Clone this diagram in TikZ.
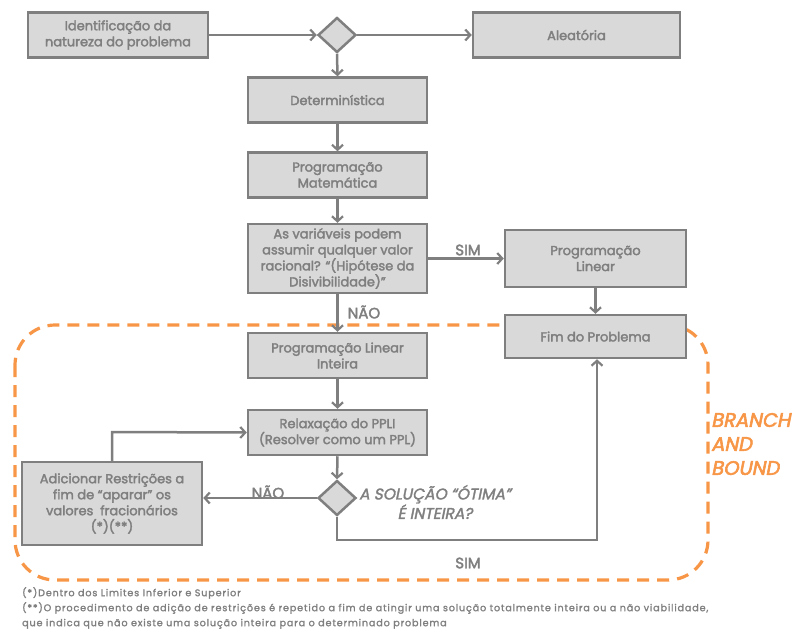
\documentclass[tikz,border=0pt]{standalone}
\usepackage{fontspec}
\setmainfont{Poppins}[FakeBold=2.5]
\newfontfamily\notefont{Poppins}[FakeBold=1.8,LetterSpace=9]
\newfontfamily\bbfont{Poppins}[FakeBold=3,FakeSlant=0.2]
\newfontfamily\qfont{Poppins}[FakeBold=2,FakeSlant=0.2]
\usetikzlibrary{arrows.meta,shapes.geometric}
\definecolor{txtgray}{RGB}{127,127,127}
\definecolor{boxfill}{RGB}{217,217,217}
\definecolor{boxline}{RGB}{127,127,127}
\definecolor{bborange}{RGB}{247,150,70}
\tikzset{
  box/.style={draw=boxline,fill=boxfill,line width=2.5pt,text=txtgray,align=center,
    font=\fontsize{13}{16}\selectfont,inner sep=0pt},
  dia/.style={diamond,draw=boxline,fill=boxfill,line width=2.5pt,minimum width=38pt,minimum height=35pt,inner sep=0pt},
  conn/.style={draw=boxline,line width=2.5pt,-{Straight Barb[length=5pt,width=11pt,line width=2.2pt]}},
  lbl/.style={text=txtgray,font=\fontsize{15}{18}\selectfont},
}
\begin{document}
\begin{tikzpicture}[x=1pt,y=-1pt]
\useasboundingbox (0,0) rectangle (798,630);
% dashed branch and bound region
\draw[bborange,line width=3.2pt,dash pattern=on 12pt off 8pt,rounded corners=40pt] (15,325) rectangle (708,580);
% nodes
\node[box,minimum width=180pt,minimum height=45pt] (ident) at (118,35) {Identificação da\\natureza do problema};
\node[dia] (d1) at (337,35) {};
\node[box,minimum width=207pt,minimum height=45pt] (alea) at (576.5,35) {Aleatória};
\node[box,minimum width=179pt,minimum height=45pt] (det) at (337.5,100) {Determinística};
\node[box,minimum width=179pt,minimum height=45pt] (pm) at (337.5,175) {Programação\\Matemática};
\node[box,minimum width=179pt,minimum height=69pt] (var) at (337.5,258.5) {As variáveis podem\\assumir qualquer valor\\racional? “(Hipótese da\\Disivibilidade)”};
\node[box,minimum width=181pt,minimum height=57pt] (pl) at (595.5,258.5) {Programação\\Linear};
\node[box,minimum width=181pt,minimum height=43pt] (fim) at (595.5,336.5) {Fim do Problema};
\node[box,minimum width=179pt,minimum height=45pt] (pli) at (337.5,355.5) {Programação Linear\\Inteira};
\node[box,minimum width=179pt,minimum height=45pt] (rel) at (337.5,432.5) {Relaxação do PPLI\\(Resolver como um PPL)};
\node[dia] (d2) at (337,498) {};
\node[box,minimum width=180pt,minimum height=83pt] (add) at (112,503.5) {Adicionar Restrições a\\fim de “aparar” os\\valores\ \ fracionários\\(*)(**)};
\coordinate (c1) at (112,432);
\coordinate (c2) at (337,540);
\coordinate (c3) at (597,540);
% connectors
\draw[conn] (ident.east) -- (d1.west);
\draw[conn] (d1.east) -- (alea.west);
\draw[conn] (d1.south) -- (det.north);
\draw[conn] (det.south) -- (pm.north);
\draw[conn] (pm.south) -- (var.north);
\draw[conn] (var.east) -- (var.east -| pl.west);
\draw[conn] (pl.south -| fim.north) -- (fim.north);
\draw[conn] (var.south) -- (pli.north);
\draw[conn] (pli.south) -- (rel.north);
\draw[conn] (rel.south) -- (d2.north);
\draw[conn] (d2.west) -- (d2.west -| add.east);
\draw[conn] (add.north) -- (c1) -- (rel.west);
\draw[conn] (d2.south) -- (c2) -- (c3) -- (c3 |- fim.south);
% labels
\node[lbl] (sim1) at (468,250) {SIM};
\node[lbl] (nao1) at (364,312) {NÃO};
\node[lbl] (nao2) at (268,492) {NÃO};
\node[lbl] (sim2) at (468,563) {SIM};
\node[text=txtgray,font=\qfont\fontsize{15.5}{17}\selectfont,align=center,anchor=west,inner sep=0pt] (q) at (359,502) {A SOLUÇÃO “ÓTIMA”\\É INTEIRA?};
\node[text=bborange,font=\bbfont\fontsize{19.5}{24}\selectfont,align=left,anchor=west,inner sep=0pt] (bb) at (711,444) {BRANCH\\AND\\BOUND};
\node[text=txtgray,font=\notefont\fontsize{9.6}{15}\selectfont,align=left,anchor=north west,inner sep=0pt] (notes) at (22,587) {(*)Dentro dos Limites Inferior e Superior\\(**)O procedimento de adição de restrições é repetido a fim de atingir uma solução totalmente inteira ou a não viabilidade,\\que indica que não existe uma solução inteira para o determinado problema};
\end{tikzpicture}
\end{document}
